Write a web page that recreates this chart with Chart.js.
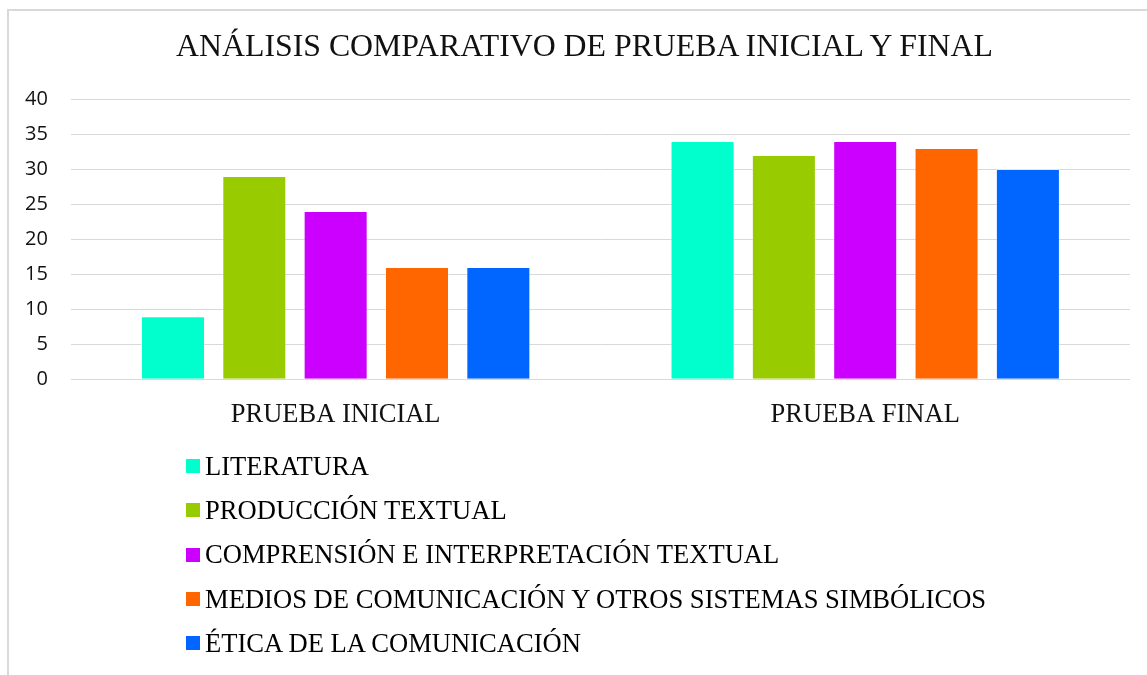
<!DOCTYPE html>
<html>
<head>
<meta charset="utf-8">
<script src="https://cdn.jsdelivr.net/npm/chart.js@4.4.1/dist/chart.umd.min.js"></script>
<style>
    body { margin: 0; background: #fff; }
    #frame { position: relative; width: 1147px; height: 675px; overflow: hidden; background: #fff; }
    #border { position: absolute; left: 7px; top: 9px; right: -2px; bottom: -2px; border-left: 2px solid #d9d9d9; border-top: 2px solid #d9d9d9; }
    #title { position: absolute; left: 0; top: 30px; width: 1169px; text-align: center; line-height: 32px; white-space: nowrap;
             font-family: "Liberation Serif", "Times New Roman", serif; font-size: 31.8px; color: #111; }
    #chartBox { position: absolute; left: 0; top: 0; width: 1147px; height: 460px; }
    #legend { position: absolute; left: 186px; top: 444px; font-family: "Liberation Serif", "Times New Roman", serif; font-size: 26.6px; color: #000; }
    .legend-item { display: flex; align-items: center; height: 44.3px; white-space: nowrap; }
    .legend-box { width: 14px; height: 14px; margin-right: 5px; flex: none; }
</style>
</head>
<body>
<div id="frame">
    <div id="border"></div>
    <div id="chartBox"><canvas id="comparativoChart"></canvas></div>
    <div id="title">ANÁLISIS COMPARATIVO DE PRUEBA INICIAL Y FINAL</div>
    <div id="legend"></div>
</div>
<script>
// Data
const categories = ['PRUEBA INICIAL', 'PRUEBA FINAL'];
const seriesNames = [
    'LITERATURA',
    'PRODUCCIÓN TEXTUAL',
    'COMPRENSIÓN E INTERPRETACIÓN TEXTUAL',
    'MEDIOS DE COMUNICACIÓN Y OTROS SISTEMAS SIMBÓLICOS',
    'ÉTICA DE LA COMUNICACIÓN'
];
const literatura = [9, 34];
const produccion = [29, 32];
const comprension = [24, 34];
const medios = [16, 33];
const etica = [16, 30];
const seriesColors = ['#00ffcc', '#99cc00', '#cc00ff', '#ff6600', '#0066ff'];

const seriesValues = [literatura, produccion, comprension, medios, etica];

const ctx = document.getElementById('comparativoChart');

new Chart(ctx, {
    type: 'bar',
    data: {
        labels: categories,
        datasets: seriesNames.map((name, i) => ({
            label: name,
            data: seriesValues[i],
            backgroundColor: seriesColors[i],
            borderColor: 'rgba(255,255,255,0.35)',
            borderWidth: 1,
            barPercentage: 0.787,
            categoryPercentage: 0.768
        }))
    },
    options: {
        responsive: true,
        maintainAspectRatio: false,
        animation: false,
        layout: { padding: { left: 2, right: 17, top: 99, bottom: 17 } },
        plugins: {
            legend: { display: false },
            tooltip: { enabled: false }
        },
        scales: {
            y: {
                min: 0,
                max: 40,
                ticks: {
                    stepSize: 5,
                    padding: 23,
                    color: '#111',
                    font: { family: '"Open Sans", sans-serif', size: 20 }
                },
                grid: { color: '#d9d9d9', lineWidth: 1, drawTicks: false },
                border: { display: false }
            },
            x: {
                ticks: {
                    padding: 12,
                    color: '#111',
                    font: { family: '"Liberation Serif", "Times New Roman", serif', size: 26.5 }
                },
                grid: { display: false },
                border: { display: false }
            }
        }
    }
});

// Vertical legend, one entry per row
const legendEl = document.getElementById('legend');
seriesNames.forEach((name, i) => {
    const item = document.createElement('div');
    item.className = 'legend-item';
    const box = document.createElement('span');
    box.className = 'legend-box';
    box.style.background = seriesColors[i];
    const text = document.createElement('span');
    text.textContent = name;
    item.appendChild(box);
    item.appendChild(text);
    legendEl.appendChild(item);
});
</script>
</body>
</html>
